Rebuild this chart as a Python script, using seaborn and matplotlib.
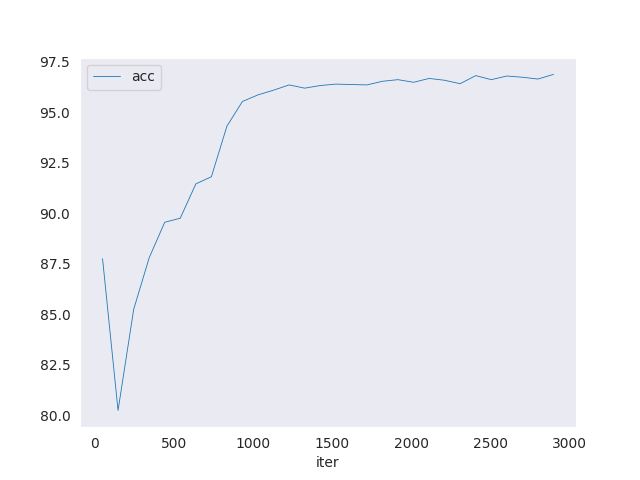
import matplotlib
matplotlib.use('Agg')
import matplotlib.pyplot as plt
import pandas as pd
import seaborn as sns

iters = [50, 148, 247, 345, 443, 541, 640, 738, 836, 934,
         1033, 1131, 1229, 1328, 1426, 1524, 1622, 1721, 1819, 1917,
         2016, 2114, 2212, 2310, 2409, 2507, 2605, 2703, 2802, 2900]
acc = [87.75, 80.25, 85.25, 87.8, 89.55, 89.75, 91.45, 91.8, 94.3, 95.52,
       95.85, 96.08, 96.34, 96.18, 96.31, 96.38, 96.36, 96.34, 96.52, 96.6,
       96.47, 96.66, 96.57, 96.4, 96.8, 96.6, 96.78, 96.72, 96.63, 96.86]

df = pd.DataFrame({'iter': iters, 'acc': acc})

sns.set_style('dark')
fig, ax = plt.subplots(figsize=(6.4, 4.8), dpi=100)
sns.lineplot(data=df, x='iter', y='acc', ax=ax, label='acc',
             color='#1f77b4', linewidth=0.6)
ax.set_xlabel('iter')
ax.set_ylabel('')
ax.legend(loc='upper left')

plt.savefig('out.png')
